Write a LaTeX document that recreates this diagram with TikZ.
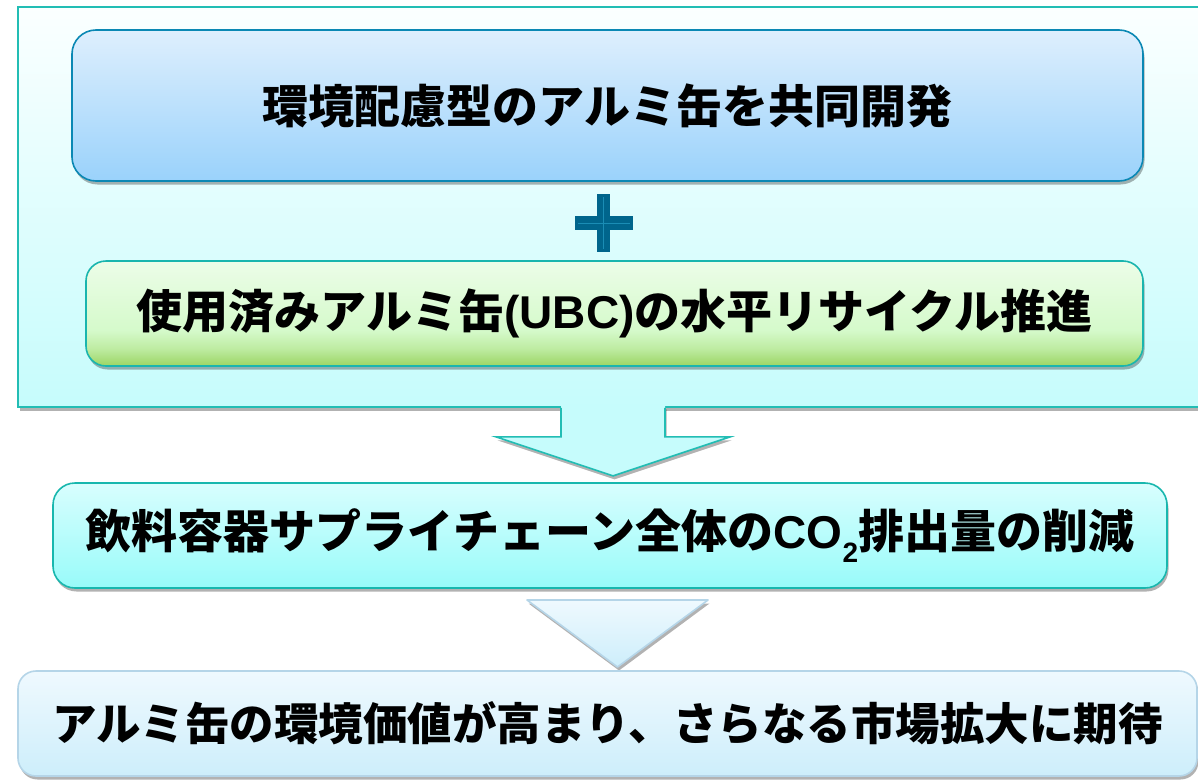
\documentclass[tikz,border=0pt]{standalone}
\usepackage{fontspec}
\usetikzlibrary{shadows,calc}
\newfontfamily\jp{Noto Sans CJK JP}
\newfontfamily\lat{Liberation Sans}
\definecolor{outerTop}{HTML}{FBFFFF}
\definecolor{outerBot}{HTML}{C6FCFC}
\definecolor{outerBorder}{HTML}{22BDB4}
\definecolor{bOneTop}{HTML}{DEEFFD}
\definecolor{bOneBot}{HTML}{9AD2FB}
\definecolor{bOneBorder}{HTML}{0A88B4}
\definecolor{gTop}{HTML}{ECFDE8}
\definecolor{gMid}{HTML}{D5FACB}
\definecolor{gLow}{HTML}{BDEBA0}
\definecolor{gBot}{HTML}{9BD563}
\definecolor{gBorder}{HTML}{19B5AE}
\definecolor{bThreeTop}{HTML}{D8FEFE}
\definecolor{bThreeBot}{HTML}{98FBF9}
\definecolor{bThreeBorder}{HTML}{18B7AE}
\definecolor{bFourTop}{HTML}{EFF9FE}
\definecolor{bFourBot}{HTML}{CDEEFB}
\definecolor{bFourBorder}{HTML}{B5D5E8}
\definecolor{plusFill}{HTML}{00658C}
\definecolor{plusLine}{HTML}{1A8DB5}
\pgfdeclareverticalshading{greenshade}{100bp}{color(0bp)=(gBot); color(25bp)=(gBot); color(33bp)=(gLow); color(42bp)=(gMid); color(75bp)=(gTop); color(100bp)=(gTop)}
\begin{document}
\begin{tikzpicture}[x=1pt,y=-1pt,
  shadowed/.style={drop shadow={shadow xshift=1.5pt,shadow yshift=-3.5pt,opacity=0.3,fill=black}},
  box/.style={rounded corners=22pt, line width=1.6pt, inner sep=0pt, text=black,
    font=\jp\bfseries\fontsize{46}{50}\selectfont, shadowed},
  bluebox/.style={box, draw=bOneBorder, top color=bOneTop, bottom color=bOneBot, rounded corners=24pt},
  greenbox/.style={box, draw=gBorder, shading=greenshade, rounded corners=20pt},
  cyanbox/.style={box, draw=bThreeBorder, top color=bThreeTop, bottom color=bThreeBot},
  palebox/.style={box, draw=bFourBorder, top color=bFourTop, bottom color=bFourBot, rounded corners=18pt},
  groupbox/.style={draw=outerBorder, line width=1.8pt, top color=outerTop, bottom color=outerBot, inner sep=0pt, shadowed},
]
\useasboundingbox (0,0) rectangle (1198,779);
\clip (0,0) rectangle (1198,779);
\fill[white] (0,0) rectangle (1198,779);

% group
\node[groupbox, minimum width=1190pt, minimum height=400pt] (outer) at (613,207) {};

\node[bluebox, minimum width=1071pt, minimum height=151pt] (b1) at (607.5,105.5) {環境配慮型のアルミ缶を共同開発};

% plus sign
\coordinate (plus) at (603.5,223);
\fill[plusFill] ($(plus)+(-6.5,-29)$) rectangle ($(plus)+(6.5,29)$);
\fill[plusFill] ($(plus)+(-28.5,-7)$) rectangle ($(plus)+(29.5,7)$);
\draw[plusLine, line width=1pt] ($(plus)+(0,-26)$) -- ($(plus)+(0,26)$);
\draw[plusLine, line width=1pt] ($(plus)+(-25.5,0)$) -- ($(plus)+(26.5,0)$);

\node[greenbox, minimum width=1057pt, minimum height=105pt] (b2) at (614.5,313.5) {使用済みアルミ缶{\lat(UBC)}の水平リサイクル推進};

% arrow 1
\fill[outerBot, shadowed] ($(outer.south)+(-52,-2)$) -- ($(outer.south)+(-52,29)$) -- ($(outer.south)+(-117,29)$) -- ($(outer.south)+(0,68)$) -- ($(outer.south)+(117,29)$) -- ($(outer.south)+(52,29)$) -- ($(outer.south)+(52,-2)$) -- cycle;
\draw[outerBorder, line width=1.6pt, line join=miter] ($(outer.south)+(-52,0)$) -- ($(outer.south)+(-52,29)$) -- ($(outer.south)+(-117,29)$) -- ($(outer.south)+(0,68)$) -- ($(outer.south)+(117,29)$) -- ($(outer.south)+(52,29)$) -- ($(outer.south)+(52,0)$);

\node[cyanbox, minimum width=1114pt, minimum height=105pt] (b3) at (610,535.5) {飲料容器サプライチェーン全体の{\lat CO}\raisebox{-0.3em}{\fontsize{28}{28}\selectfont\lat 2}排出量の削減};

% arrow 2
\coordinate (a2) at (617.5,600);
\draw[bFourBorder, line width=1.6pt, top color=bFourTop, bottom color=bFourBot, shadowed, line join=round] ($(a2)+(-90.5,0)$) -- ($(a2)+(90.5,0)$) -- ($(a2)+(0,67)$) -- cycle;

\node[palebox, minimum width=1179pt, minimum height=105pt] (b4) at (607.5,723.5) {\fontsize{44.5}{48}\selectfont アルミ缶の環境価値が高まり、さらなる市場拡大に期待};
\end{tikzpicture}
\end{document}
